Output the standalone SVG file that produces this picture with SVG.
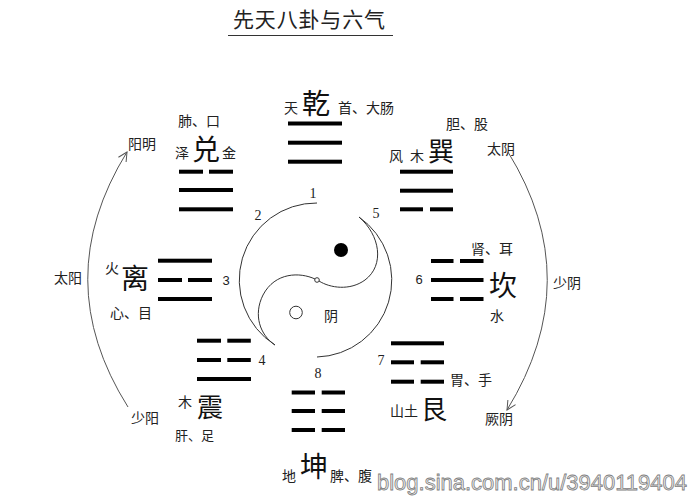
<svg xmlns="http://www.w3.org/2000/svg" width="690" height="496" viewBox="0 0 690 496">
<defs>
<style>
.bg{fill:#fff}
.ln{fill:#000}
.t{font-family:"Noto Sans CJK SC","Noto Sans CJK JP",sans-serif;font-size:14px;fill:#222}
.big{font-family:"Noto Sans CJK SC","Noto Sans CJK JP",sans-serif;font-size:28px;fill:#111}
.num{font-family:"Liberation Serif",serif;font-size:14px;fill:#222;text-anchor:middle}
.nums{font-family:"Liberation Sans",sans-serif;font-size:13px;fill:#222;text-anchor:middle}
.thin{fill:none;stroke:#333;stroke-width:1}
.arc{fill:none;stroke:#555;stroke-width:1}
</style>
<marker id="ah" viewBox="-10 -6 12 12" markerWidth="12" markerHeight="12" refX="0" refY="0" orient="auto" markerUnits="userSpaceOnUse">
<path d="M-9,-4.5 L0,0 L-9,4.5" fill="none" stroke="#555" stroke-width="1"/>
</marker>
</defs>
<rect class="bg" x="0" y="0" width="690" height="496"/>

<g id="title">
<text x="233" y="27" font-family="Noto Sans CJK SC,sans-serif" font-size="21" fill="#222" textLength="152">先天八卦与六气</text>
<line x1="228" y1="35.5" x2="393" y2="35.5" stroke="#333" stroke-width="1"/>
</g>

<g id="qian">
<rect class="ln" x="288" y="121.5" width="54" height="4"/>
<rect class="ln" x="288" y="140.7" width="54" height="4"/>
<rect class="ln" x="288" y="159.7" width="54" height="4"/>
<text class="t" x="284" y="113">天</text>
<text class="big" x="302" y="114">乾</text>
<text class="t" x="338" y="113">首、大肠</text>
</g>

<g id="dui">
<rect class="ln" x="179" y="169.7" width="24" height="4"/>
<rect class="ln" x="209" y="169.7" width="24" height="4"/>
<rect class="ln" x="179" y="188" width="54" height="4"/>
<rect class="ln" x="179" y="207.3" width="54" height="4"/>
<text class="t" x="178" y="126">肺、口</text>
<text class="t" x="175" y="158">泽</text>
<text class="big" x="192" y="160">兑</text>
<text class="t" x="222" y="158">金</text>
</g>

<g id="xun">
<rect class="ln" x="400" y="169.7" width="53" height="4"/>
<rect class="ln" x="400" y="188.7" width="53" height="4"/>
<rect class="ln" x="400" y="207.3" width="23" height="4"/>
<rect class="ln" x="430" y="207.3" width="23" height="4"/>
<text class="t" x="446" y="129">胆、股</text>
<text class="t" x="389" y="161">风</text>
<text class="t" x="410" y="161">木</text>
<text class="big" x="428" y="161" style="font-size:26px">巽</text>
</g>

<g id="li">
<rect class="ln" x="158" y="258.7" width="54" height="4"/>
<rect class="ln" x="158" y="278" width="24" height="4"/>
<rect class="ln" x="188" y="278" width="24" height="4"/>
<rect class="ln" x="158" y="297" width="54" height="4"/>
<text class="t" x="105" y="273">火</text>
<text class="big" x="121" y="289">离</text>
<text class="t" x="110" y="318">心、目</text>
</g>

<g id="kan">
<rect class="ln" x="431" y="259" width="22.5" height="4"/>
<rect class="ln" x="460" y="259" width="23.5" height="4"/>
<rect class="ln" x="431" y="278" width="52.5" height="4"/>
<rect class="ln" x="431" y="297" width="22.5" height="4"/>
<rect class="ln" x="460" y="297" width="23.5" height="4"/>
<text class="t" x="471" y="254">肾、耳</text>
<text class="big" x="489" y="296">坎</text>
<text class="t" x="490" y="321">水</text>
</g>

<g id="zhen">
<rect class="ln" x="197" y="338.7" width="24" height="4"/>
<rect class="ln" x="227.3" y="338.7" width="23.5" height="4"/>
<rect class="ln" x="197" y="358" width="24" height="4"/>
<rect class="ln" x="227.3" y="358" width="23.5" height="4"/>
<rect class="ln" x="197" y="377" width="54" height="4"/>
<text class="t" x="178" y="407">木</text>
<text class="big" x="197" y="416.5" style="font-size:26px">震</text>
<text class="t" x="175" y="440" style="font-size:13px">肝、足</text>
</g>

<g id="gen">
<rect class="ln" x="391" y="341.3" width="53" height="4"/>
<rect class="ln" x="391" y="360.3" width="23" height="4"/>
<rect class="ln" x="420.7" y="360.3" width="23.3" height="4"/>
<rect class="ln" x="391" y="379.7" width="23" height="4"/>
<rect class="ln" x="420.7" y="379.7" width="23.3" height="4"/>
<text class="t" x="450" y="385">胃、手</text>
<text class="t" x="390" y="416">山土</text>
<text class="big" x="421" y="419" style="font-size:26px">艮</text>
</g>

<g id="kun">
<rect class="ln" x="291.7" y="390.5" width="23.3" height="4"/>
<rect class="ln" x="321.7" y="390.5" width="23.3" height="4"/>
<rect class="ln" x="291.7" y="409" width="23.3" height="4"/>
<rect class="ln" x="321.7" y="409" width="23.3" height="4"/>
<rect class="ln" x="291.7" y="428" width="23.3" height="4"/>
<rect class="ln" x="321.7" y="428" width="23.3" height="4"/>
<text class="big" x="300" y="477">坤</text>
<text class="t" x="282" y="481">地</text>
<text class="t" x="330" y="481">脾、腹</text>
</g>

<g id="taiji">
<path class="thin" d="M317,203 A77,77 0 0 0 275,345"/>
<path class="thin" d="M359,217 A77,77 0 0 1 317,357"/>
<path class="thin" d="M359,217 C380,235 385,265 365,280 C350,291 330,288 319,281"/>
<path class="thin" d="M315,279 C300,272 275,272 263,295 C253,315 260,335 275,345"/>
<circle class="thin" cx="317" cy="280" r="2.3"/>
<circle cx="341" cy="250" r="7" fill="#000"/>
<circle class="thin" cx="296" cy="312.5" r="6.3"/>
<text class="t" x="324" y="321">阴</text>
</g>

<g id="numbers">
<text class="num" x="313" y="198">1</text>
<text class="num" x="258" y="220">2</text>
<text class="nums" x="226" y="285">3</text>
<text class="num" x="262" y="365">4</text>
<text class="num" x="376" y="218">5</text>
<text class="nums" x="419" y="284">6</text>
<text class="num" x="381" y="365">7</text>
<text class="num" x="318" y="378">8</text>
</g>

<g id="qi-labels">
<text class="t" x="128" y="149">阳明</text>
<text class="t" x="54" y="283">太阳</text>
<text class="t" x="131" y="423">少阳</text>
<text class="t" x="487" y="154">太阴</text>
<text class="t" x="553" y="288">少阴</text>
<text class="t" x="485" y="424">厥阴</text>
</g>

<g id="connectors">
<path class="arc" d="M128,407 Q48,280 127,152" marker-end="url(#ah)"/>
<path class="arc" d="M508,152 Q587,280 507,410" marker-end="url(#ah)"/>
</g>

<g id="watermark">
<text x="377" y="490" font-family="Liberation Sans,sans-serif" font-size="22" fill="#eee" stroke="#808080" stroke-width="0.8" textLength="310">blog.sina.com.cn/u/3940119404</text>
</g>
</svg>
